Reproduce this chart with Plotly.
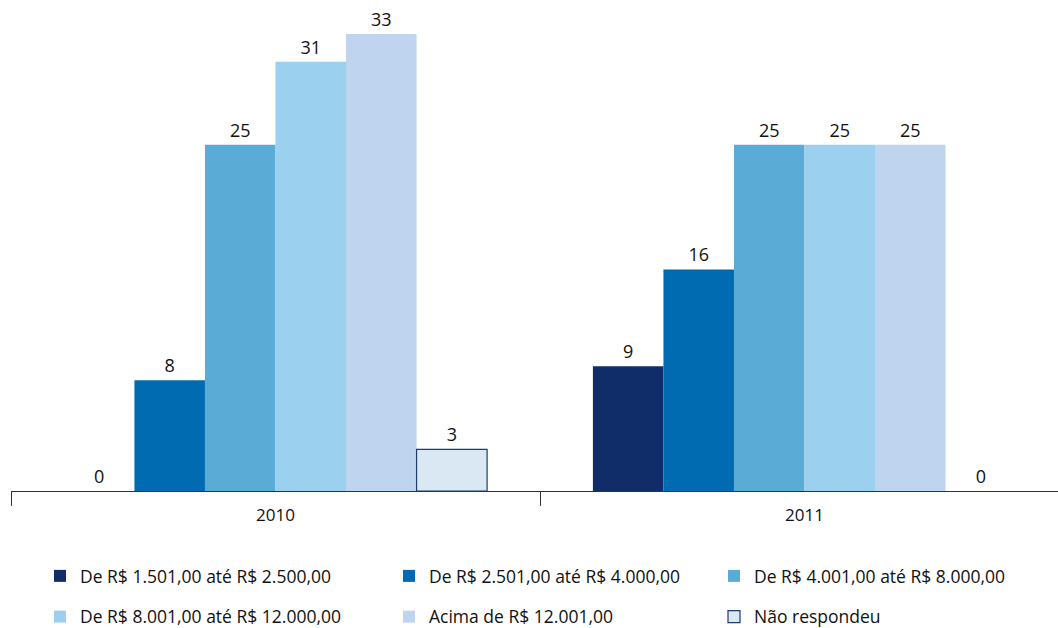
import plotly.graph_objects as go

years = ["2010", "2011"]
series_names = [
    "De R$ 1.501,00 até R$ 2.500,00",
    "De R$ 2.501,00 até R$ 4.000,00",
    "De R$ 4.001,00 até R$ 8.000,00",
    "De R$ 8.001,00 até R$ 12.000,00",
    "Acima de R$ 12.001,00",
    "Não respondeu",
]
v_1501_2500 = [0, 9]
v_2501_4000 = [8, 16]
v_4001_8000 = [25, 25]
v_8001_12000 = [31, 25]
v_acima_12001 = [33, 25]
v_nao_respondeu = [3, 0]
values = [v_1501_2500, v_2501_4000, v_4001_8000, v_8001_12000, v_acima_12001, v_nao_respondeu]

colors = ["#112d69", "#006bb0", "#5aabd6", "#9bd0ef", "#bed4ef", "#d9e8f3"]
line_colors = ["#112d69", "#006bb0", "#5aabd6", "#9bd0ef", "#bed4ef", "#1f3a6e"]
line_widths = [0, 0, 0, 0, 0, 1.2]
legend_ids = ["legend", "legend2", "legend3", "legend", "legend2", "legend3"]

FONT = "Open Sans"

fig = go.Figure()
for i, (name, vals) in enumerate(zip(series_names, values)):
    widths = [line_widths[i] if v > 0 else 0 for v in vals]
    fig.add_trace(go.Bar(
        x=years, y=vals, name=name,
        marker=dict(color=colors[i], line=dict(color=line_colors[i], width=widths)),
        text=[str(v) for v in vals], textposition="outside",
        textfont=dict(size=18, color="#111111", family=FONT),
        cliponaxis=False,
        legend=legend_ids[i],
        legendgroup=f"g{i}",
        hoverinfo="skip",
    ))

W, H = 1058, 628
ml, mr, mt, mb = 11, 0, 0, 0
pw = W - ml - mr
base_px = 491
cat_w = 529

def lx(px):
    return (px - ml) / pw

def ly(py):
    return (H - py) / H

leg_common = dict(
    orientation="v", yanchor="top", xanchor="left",
    font=dict(size=17.5, color="#111111", family=FONT),
    bgcolor="rgba(0,0,0,0)", tracegroupgap=15, itemwidth=30,
)

fig.update_layout(
    width=W, height=H,
    margin=dict(l=ml, r=mr, t=mt, b=mb, autoexpand=False),
    plot_bgcolor="white", paper_bgcolor="white",
    barmode="group", bargap=0.2, bargroupgap=0,
    font=dict(family=FONT, size=17, color="#111111"),
    xaxis=dict(
        type="category",
        range=[-0.5, -0.5 + pw / cat_w],
        showline=True, linecolor="#333333", linewidth=1.2,
        ticks="outside", tickson="boundaries", ticklen=14, tickcolor="#333333", tickwidth=1.2,
        tickfont=dict(size=17, color="#111111", family=FONT),
        ticklabelstandoff=8,
        showgrid=False, automargin=False,
    ),
    yaxis=dict(range=[0, 35.45], visible=False, showgrid=False,
               domain=[(H - base_px) / H, 1], automargin=False),
    legend=dict(x=lx(40), y=ly(558), **leg_common),
    legend2=dict(x=lx(389), y=ly(558), **leg_common),
    legend3=dict(x=lx(714), y=ly(558), **leg_common),
)

fig.write_html(
    "out.html",
    config={"displayModeBar": False},
    post_script="document.body.style.margin='0';document.body.style.padding='0';",
)
